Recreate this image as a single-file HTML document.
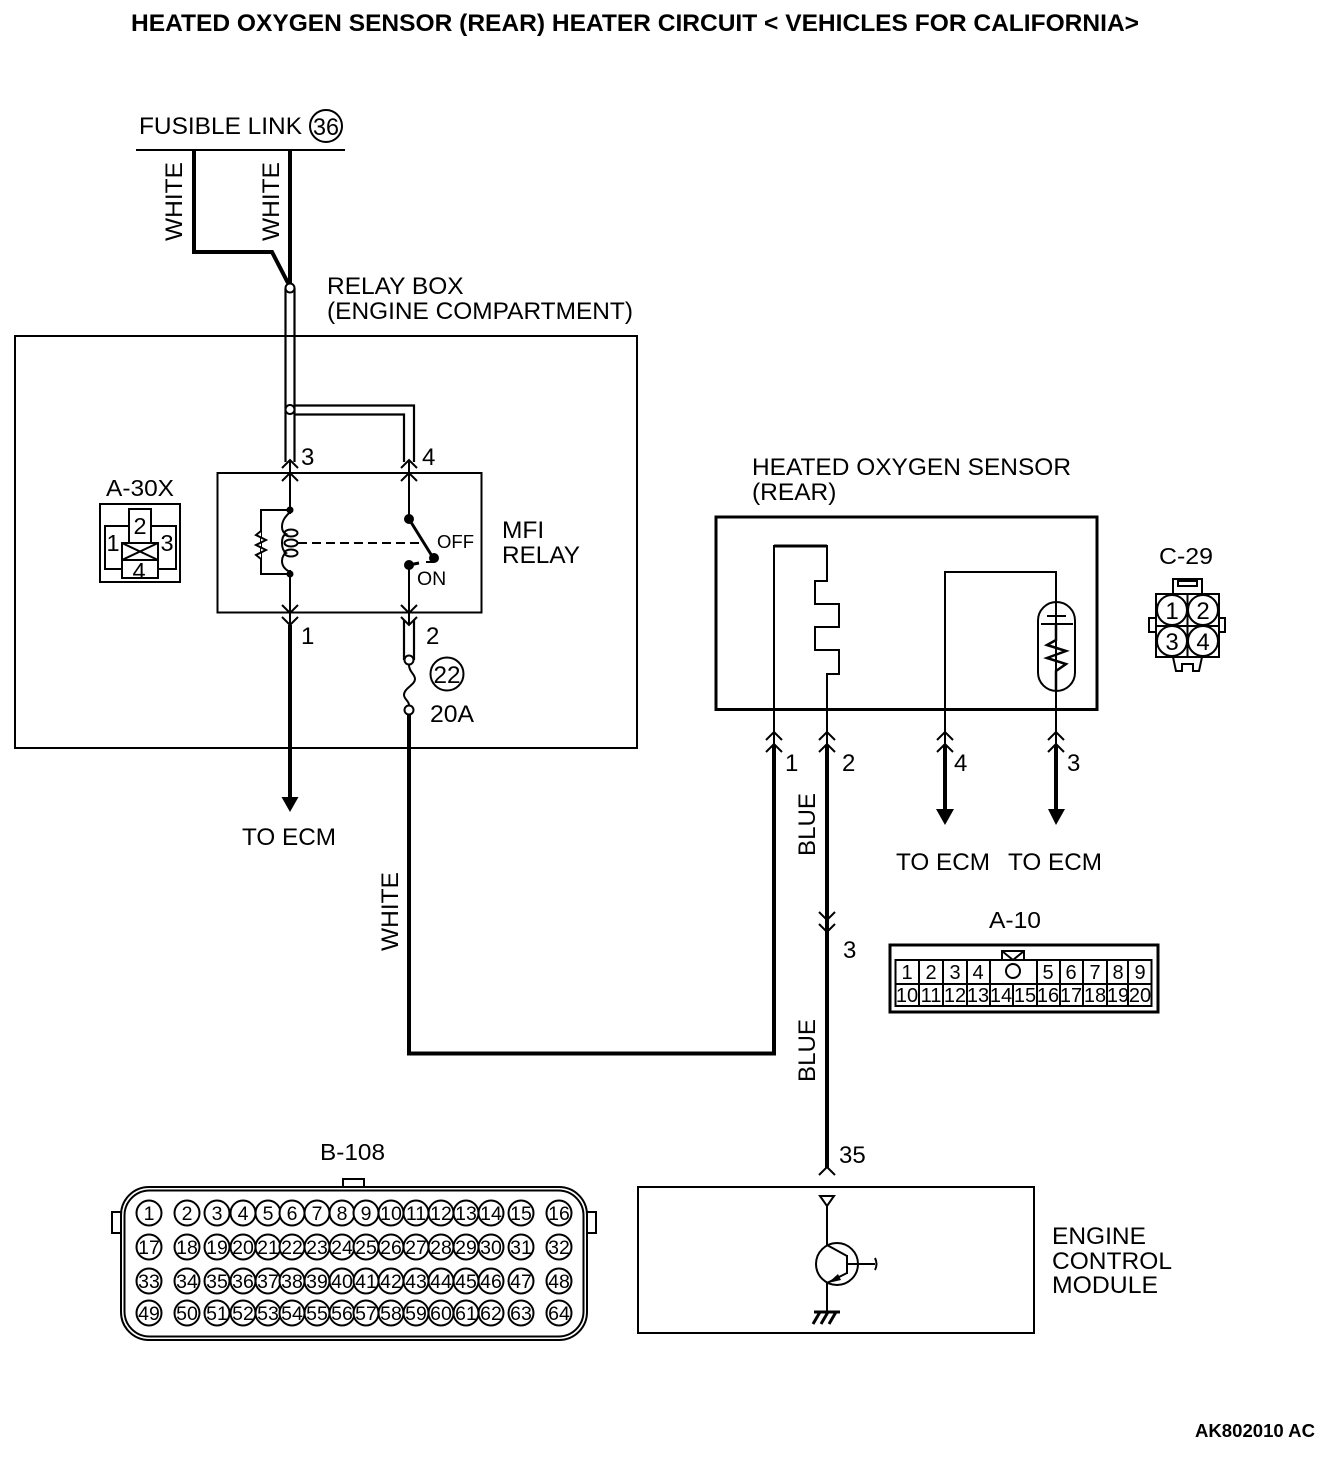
<!DOCTYPE html>
<html><head><meta charset="utf-8"><style>
html,body{margin:0;padding:0;background:#fff}
svg{display:block}
text{font-family:"Liberation Sans",sans-serif;fill:#000;font-size:24.5px}
.w{fill:none;stroke:#000}
.t2{stroke-width:2}.t3{stroke-width:3}.t4{stroke-width:4}
.p circle{fill:#fff;stroke:#000;stroke-width:2}
.p text{font-size:19.5px;text-anchor:middle}
.a text{font-size:20px;text-anchor:middle}
</style></head><body>
<svg width="1344" height="1460" viewBox="0 0 1344 1460" xmlns="http://www.w3.org/2000/svg">
<rect width="1344" height="1460" fill="#fff"/>
<text x="131" y="31" font-weight="bold" style="font-size:24px" textLength="1008" lengthAdjust="spacingAndGlyphs">HEATED OXYGEN SENSOR (REAR) HEATER CIRCUIT &lt; VEHICLES FOR CALIFORNIA&gt;</text>

<!-- fusible link -->
<text x="139" y="134" textLength="163" lengthAdjust="spacingAndGlyphs">FUSIBLE LINK</text>
<circle cx="326" cy="126" r="16" class="w t2"/>
<text x="326" y="135" text-anchor="middle" textLength="26" lengthAdjust="spacingAndGlyphs">36</text>
<path d="M136 150H345" class="w t2"/>
<path d="M194 149V252H272L288 283" class="w t4"/>
<path d="M290 149V284" class="w t4"/>
<text transform="translate(182,241) rotate(-90)" textLength="79" lengthAdjust="spacingAndGlyphs">WHITE</text>
<text transform="translate(279,241) rotate(-90)" textLength="79" lengthAdjust="spacingAndGlyphs">WHITE</text>
<text x="327" y="294">RELAY BOX</text>
<text x="327" y="319" textLength="306" lengthAdjust="spacingAndGlyphs">(ENGINE COMPARTMENT)</text>

<!-- relay box -->
<rect x="15" y="336" width="622" height="412" class="w t2"/>
<path d="M285.500 288V462M294.500 288V462" fill="none" stroke="#000" stroke-width="2.200"/>
<path d="M294 405.500H414V462M294 414.500H404V462" fill="none" stroke="#000" stroke-width="2.200"/>
<circle cx="290" cy="288" r="4.500" fill="#fff" stroke="#000" stroke-width="2"/>
<circle cx="290" cy="409.500" r="4.500" fill="#fff" stroke="#000" stroke-width="2"/>
<rect x="217.500" y="473" width="264" height="139.500" class="w t2"/>

<!-- relay wires and chevrons -->
<path d="M290 460V625M409 460V519M409 565V625" class="w t2"/>
<path d="M282 468L290 460L298 468M282 481L290 473L298 481M401 468L409 460L417 468M401 481L409 473L417 481" class="w t2"/>
<path d="M282 605L290 613L298 605M282 617L290 625L298 617M401 605L409 613L417 605M401 617L409 625L417 617" class="w t2"/>
<text x="301" y="465" style="font-size:24px">3</text>
<text x="422" y="465" style="font-size:24px">4</text>
<text x="301" y="644" style="font-size:24px">1</text>
<text x="426" y="644" style="font-size:24px">2</text>

<!-- coil -->
<circle cx="290" cy="510" r="3.500"/><circle cx="290" cy="574" r="3.500"/>
<path d="M290 510H261V574H290" class="w t2"/>
<path d="M261 531L256 535L266 540L256 545L266 550L256 555L261 559" fill="#fff" stroke="#000" stroke-width="2"/>
<rect x="280" y="514" width="20" height="56" fill="#fff"/>
<path d="M290 512C286 516 282 520 282 527C282 531 284 533 286 534C283 535 282 539 282 543C282 547 283 551 286 553C284 554 282 557 282 561C282 567 286 570 290 572" class="w t2"/>
<ellipse cx="291" cy="533" rx="6.500" ry="3.500" class="w t2"/>
<ellipse cx="291" cy="543" rx="6.500" ry="3.500" class="w t2"/>
<ellipse cx="291" cy="553" rx="6.500" ry="3.500" class="w t2"/>
<path d="M298 543H425" class="w t2" stroke-dasharray="9 5"/>
<!-- switch -->
<circle cx="409" cy="519" r="5"/><circle cx="434" cy="558" r="5"/><circle cx="409" cy="565" r="5"/>
<path d="M409 519L432 556M409 565L419 563" class="w t3"/>
<path d="M426 562H434" class="w t2"/>
<text x="437" y="548" style="font-size:18.500px">OFF</text>
<text x="417" y="585" style="font-size:19.500px">ON</text>
<text x="502" y="538">MFI</text>
<text x="502" y="563" textLength="78" lengthAdjust="spacingAndGlyphs">RELAY</text>

<!-- A-30X -->
<text x="106" y="496" style="font-size:23px" textLength="68" lengthAdjust="spacingAndGlyphs">A-30X</text>
<rect x="100" y="504" width="80" height="78" class="w t2"/>
<path d="M129 526H105V569H122M151 526H176V569H158" class="w t2"/>
<rect x="129" y="509" width="22" height="34" class="w t2"/>
<rect x="122" y="543" width="36" height="35" class="w t2"/>
<path d="M122 543L158 560M158 543L122 560M122 560H158" class="w t2"/>
<text x="140" y="534" text-anchor="middle" style="font-size:23.500px">2</text>
<text x="113" y="551" text-anchor="middle" style="font-size:23.500px">1</text>
<text x="167" y="551" text-anchor="middle" style="font-size:23.500px">3</text>
<text x="139" y="579" text-anchor="middle" style="font-size:23.500px">4</text>

<!-- lower relay -->
<path d="M290 625V800" class="w" stroke-width="4"/>
<path d="M281.500 797H298.500L290 812Z"/>
<text x="242" y="845" textLength="94" lengthAdjust="spacingAndGlyphs">TO ECM</text>
<path d="M404 620V660M414 620V660" fill="none" stroke="#000" stroke-width="2.200"/>
<path d="M409 665C409 672 415 674 415 679C415 685 404 688 404 695C404 699 409 701 409 705" class="w t2"/>
<circle cx="409" cy="660" r="4.500" fill="#fff" stroke="#000" stroke-width="2"/>
<circle cx="409" cy="710" r="4.500" fill="#fff" stroke="#000" stroke-width="2"/>
<circle cx="447" cy="674" r="16.500" class="w t2"/>
<text x="447" y="683" text-anchor="middle" textLength="27" lengthAdjust="spacingAndGlyphs">22</text>
<text x="430" y="722" style="font-size:24px" textLength="44" lengthAdjust="spacingAndGlyphs">20A</text>

<!-- long wire -->
<path d="M409 715V1053.500H774V745" class="w t4"/>
<text transform="translate(398,951) rotate(-90)" textLength="79" lengthAdjust="spacingAndGlyphs">WHITE</text>

<!-- HO2S -->
<text x="752" y="475" textLength="319" lengthAdjust="spacingAndGlyphs">HEATED OXYGEN SENSOR</text>
<text x="752" y="500">(REAR)</text>
<rect x="716" y="517" width="381" height="192.500" class="w t3"/>
<path d="M774 745V546H827V581H815V604H839V627H815V650H839V674H827V745" class="w t2"/>
<path d="M827 546H774" class="w t3"/>
<path d="M945 745V572H1056V745" class="w t2"/>
<rect x="1038" y="602" width="37" height="89" rx="18.500" fill="none" stroke="#000" stroke-width="2"/>
<path d="M1047 616H1066M1041 624H1073" class="w t2"/>
<path d="M1056 624V640L1047 645L1066 651L1047 658L1066 664L1056 671V691" fill="none" stroke="#000" stroke-width="2.500"/>
<path d="M766 740L774 732L782 740M766 752L774 744L782 752M819 740L827 732L835 740M819 752L827 744L835 752M937 740L945 732L953 740M937 752L945 744L953 752M1048 740L1056 732L1064 740M1048 752L1056 744L1064 752" class="w t2"/>
<text x="785" y="771" style="font-size:24px">1</text>
<text x="842" y="771" style="font-size:24px">2</text>
<text x="954" y="771" style="font-size:24px">4</text>
<text x="1067" y="771" style="font-size:24px">3</text>
<path d="M945 745V812M1056 745V812" class="w t4"/>
<path d="M936 809H954L945 825Z M1048 809H1065L1056 825Z"/>
<text x="896" y="870" textLength="94" lengthAdjust="spacingAndGlyphs">TO ECM</text>
<text x="1008" y="870" textLength="94" lengthAdjust="spacingAndGlyphs">TO ECM</text>

<!-- C-29 -->
<text x="1159" y="564" style="font-size:23px" textLength="54" lengthAdjust="spacingAndGlyphs">C-29</text>
<rect x="1173" y="579" width="29" height="15" class="w t2"/>
<rect x="1178" y="581" width="19" height="5" class="w t2"/>
<rect x="1156" y="594" width="63" height="63" class="w t2"/>
<path d="M1187.500 594V657M1156 626H1219" class="w t2"/>
<path d="M1156 618H1149V632H1156M1219 618H1225V632H1219" class="w t2"/>
<path d="M1173 657L1176 671H1182V664H1193V671H1199L1202 657" class="w t2"/>
<g class="p">
<circle cx="1172" cy="610" r="15"/><text x="1172" y="619" style="font-size:24px">1</text>
<circle cx="1203" cy="610" r="15"/><text x="1203" y="619" style="font-size:24px">2</text>
<circle cx="1172" cy="641" r="15"/><text x="1172" y="650" style="font-size:24px">3</text>
<circle cx="1203" cy="641" r="15"/><text x="1203" y="650" style="font-size:24px">4</text>
</g>

<!-- BLUE wire -->
<path d="M827 745V1168" class="w t4"/>
<path d="M819 912L827 920L835 912M819 924L827 932L835 924" class="w t2"/>
<text x="843" y="958" style="font-size:24px">3</text>
<text transform="translate(815,856) rotate(-90)" textLength="63" lengthAdjust="spacingAndGlyphs">BLUE</text>
<text transform="translate(815,1082) rotate(-90)" textLength="63" lengthAdjust="spacingAndGlyphs">BLUE</text>
<path d="M819 1175L827 1167L835 1175" class="w t2"/>
<text x="839" y="1163" style="font-size:24px">35</text>

<!-- A-10 -->
<text x="989" y="928" style="font-size:23px" textLength="52" lengthAdjust="spacingAndGlyphs">A-10</text>
<rect x="890" y="945" width="268" height="67" class="w t3"/>
<rect x="1002" y="951" width="22" height="9" class="w t2"/>
<path d="M1002 951L1013 960L1024 951" class="w t2"/>
<rect x="895.500" y="960" width="256" height="46" class="w t2"/>
<path d="M895 984H1152" class="w t2"/>
<path d="M919 960V1006M943 960V1006M967 960V1006M990 960V1006M1037 960V1006M1060 960V1006M1083 960V1006M1107 960V1006M1128 960V1006M1013 984V1006" class="w t2"/>
<circle cx="1013" cy="971" r="7" class="w t2"/>
<g class="a">
<text x="907" y="979">1</text><text x="931" y="979">2</text><text x="955" y="979">3</text><text x="978" y="979">4</text><text x="1048" y="979">5</text><text x="1071" y="979">6</text><text x="1095" y="979">7</text><text x="1118" y="979">8</text><text x="1140" y="979">9</text>
<text x="907" y="1002">10</text><text x="931" y="1002">11</text><text x="955" y="1002">12</text><text x="978" y="1002">13</text><text x="1001" y="1002">14</text><text x="1025" y="1002">15</text><text x="1048" y="1002">16</text><text x="1071" y="1002">17</text><text x="1095" y="1002">18</text><text x="1118" y="1002">19</text><text x="1140" y="1002">20</text>
</g>

<!-- ECM -->
<rect x="638" y="1187" width="396" height="146" class="w t2"/>
<path d="M820 1196H834L827 1206Z" fill="#fff" stroke="#000" stroke-width="2"/>
<path d="M827 1206V1245M827 1283V1312" class="w t2"/>
<circle cx="837" cy="1264" r="21" class="w t2"/>
<path d="M827 1245L847 1256M847 1255V1274M847 1264H875M847 1273L827 1283" class="w t2"/>
<path d="M828 1283L838 1274L841 1280Z"/>
<path d="M875 1258C877 1262 877 1266 875 1270" class="w t2"/>
<path d="M814 1312H840M820 1312L813 1324M828 1312L821 1324M836 1312L829 1324" class="w t3"/>
<text x="1052" y="1244">ENGINE</text>
<text x="1052" y="1269" textLength="120" lengthAdjust="spacingAndGlyphs">CONTROL</text>
<text x="1052" y="1293" textLength="106" lengthAdjust="spacingAndGlyphs">MODULE</text>

<!-- B-108 -->
<text x="320" y="1160" style="font-size:23px" textLength="65" lengthAdjust="spacingAndGlyphs">B-108</text>
<rect x="343" y="1179" width="21" height="9" class="w t2"/>
<rect x="112" y="1212" width="9" height="21" class="w t2"/>
<rect x="587" y="1212" width="9" height="21" class="w t2"/>
<rect x="121" y="1187" width="466" height="153" rx="28" fill="#fff" stroke="#000" stroke-width="2"/>
<rect x="124.500" y="1190.500" width="459" height="146" rx="25" class="w t2"/>
<g class="p">
<circle cx="149" cy="1213" r="12.500"/><text x="149" y="1220">1</text>
<circle cx="187" cy="1213" r="12.500"/><text x="187" y="1220">2</text>
<circle cx="217" cy="1213" r="12.500"/><text x="217" y="1220">3</text>
<circle cx="243" cy="1213" r="12.500"/><text x="243" y="1220">4</text>
<circle cx="268" cy="1213" r="12.500"/><text x="268" y="1220">5</text>
<circle cx="292" cy="1213" r="12.500"/><text x="292" y="1220">6</text>
<circle cx="317" cy="1213" r="12.500"/><text x="317" y="1220">7</text>
<circle cx="342" cy="1213" r="12.500"/><text x="342" y="1220">8</text>
<circle cx="366" cy="1213" r="12.500"/><text x="366" y="1220">9</text>
<circle cx="391" cy="1213" r="12.500"/><text x="391" y="1220">10</text>
<circle cx="416" cy="1213" r="12.500"/><text x="416" y="1220">11</text>
<circle cx="441" cy="1213" r="12.500"/><text x="441" y="1220">12</text>
<circle cx="466" cy="1213" r="12.500"/><text x="466" y="1220">13</text>
<circle cx="491" cy="1213" r="12.500"/><text x="491" y="1220">14</text>
<circle cx="521" cy="1213" r="12.500"/><text x="521" y="1220">15</text>
<circle cx="559" cy="1213" r="12.500"/><text x="559" y="1220">16</text>
<circle cx="149" cy="1247" r="12.500"/><text x="149" y="1254">17</text>
<circle cx="187" cy="1247" r="12.500"/><text x="187" y="1254">18</text>
<circle cx="217" cy="1247" r="12.500"/><text x="217" y="1254">19</text>
<circle cx="243" cy="1247" r="12.500"/><text x="243" y="1254">20</text>
<circle cx="268" cy="1247" r="12.500"/><text x="268" y="1254">21</text>
<circle cx="292" cy="1247" r="12.500"/><text x="292" y="1254">22</text>
<circle cx="317" cy="1247" r="12.500"/><text x="317" y="1254">23</text>
<circle cx="342" cy="1247" r="12.500"/><text x="342" y="1254">24</text>
<circle cx="366" cy="1247" r="12.500"/><text x="366" y="1254">25</text>
<circle cx="391" cy="1247" r="12.500"/><text x="391" y="1254">26</text>
<circle cx="416" cy="1247" r="12.500"/><text x="416" y="1254">27</text>
<circle cx="441" cy="1247" r="12.500"/><text x="441" y="1254">28</text>
<circle cx="466" cy="1247" r="12.500"/><text x="466" y="1254">29</text>
<circle cx="491" cy="1247" r="12.500"/><text x="491" y="1254">30</text>
<circle cx="521" cy="1247" r="12.500"/><text x="521" y="1254">31</text>
<circle cx="559" cy="1247" r="12.500"/><text x="559" y="1254">32</text>
<circle cx="149" cy="1281" r="12.500"/><text x="149" y="1288">33</text>
<circle cx="187" cy="1281" r="12.500"/><text x="187" y="1288">34</text>
<circle cx="217" cy="1281" r="12.500"/><text x="217" y="1288">35</text>
<circle cx="243" cy="1281" r="12.500"/><text x="243" y="1288">36</text>
<circle cx="268" cy="1281" r="12.500"/><text x="268" y="1288">37</text>
<circle cx="292" cy="1281" r="12.500"/><text x="292" y="1288">38</text>
<circle cx="317" cy="1281" r="12.500"/><text x="317" y="1288">39</text>
<circle cx="342" cy="1281" r="12.500"/><text x="342" y="1288">40</text>
<circle cx="366" cy="1281" r="12.500"/><text x="366" y="1288">41</text>
<circle cx="391" cy="1281" r="12.500"/><text x="391" y="1288">42</text>
<circle cx="416" cy="1281" r="12.500"/><text x="416" y="1288">43</text>
<circle cx="441" cy="1281" r="12.500"/><text x="441" y="1288">44</text>
<circle cx="466" cy="1281" r="12.500"/><text x="466" y="1288">45</text>
<circle cx="491" cy="1281" r="12.500"/><text x="491" y="1288">46</text>
<circle cx="521" cy="1281" r="12.500"/><text x="521" y="1288">47</text>
<circle cx="559" cy="1281" r="12.500"/><text x="559" y="1288">48</text>
<circle cx="149" cy="1313" r="12.500"/><text x="149" y="1320">49</text>
<circle cx="187" cy="1313" r="12.500"/><text x="187" y="1320">50</text>
<circle cx="217" cy="1313" r="12.500"/><text x="217" y="1320">51</text>
<circle cx="243" cy="1313" r="12.500"/><text x="243" y="1320">52</text>
<circle cx="268" cy="1313" r="12.500"/><text x="268" y="1320">53</text>
<circle cx="292" cy="1313" r="12.500"/><text x="292" y="1320">54</text>
<circle cx="317" cy="1313" r="12.500"/><text x="317" y="1320">55</text>
<circle cx="342" cy="1313" r="12.500"/><text x="342" y="1320">56</text>
<circle cx="366" cy="1313" r="12.500"/><text x="366" y="1320">57</text>
<circle cx="391" cy="1313" r="12.500"/><text x="391" y="1320">58</text>
<circle cx="416" cy="1313" r="12.500"/><text x="416" y="1320">59</text>
<circle cx="441" cy="1313" r="12.500"/><text x="441" y="1320">60</text>
<circle cx="466" cy="1313" r="12.500"/><text x="466" y="1320">61</text>
<circle cx="491" cy="1313" r="12.500"/><text x="491" y="1320">62</text>
<circle cx="521" cy="1313" r="12.500"/><text x="521" y="1320">63</text>
<circle cx="559" cy="1313" r="12.500"/><text x="559" y="1320">64</text>
</g>

<text x="1195" y="1437" font-weight="bold" style="font-size:18px" textLength="120" lengthAdjust="spacingAndGlyphs">AK802010 AC</text>
</svg>
</body></html>
